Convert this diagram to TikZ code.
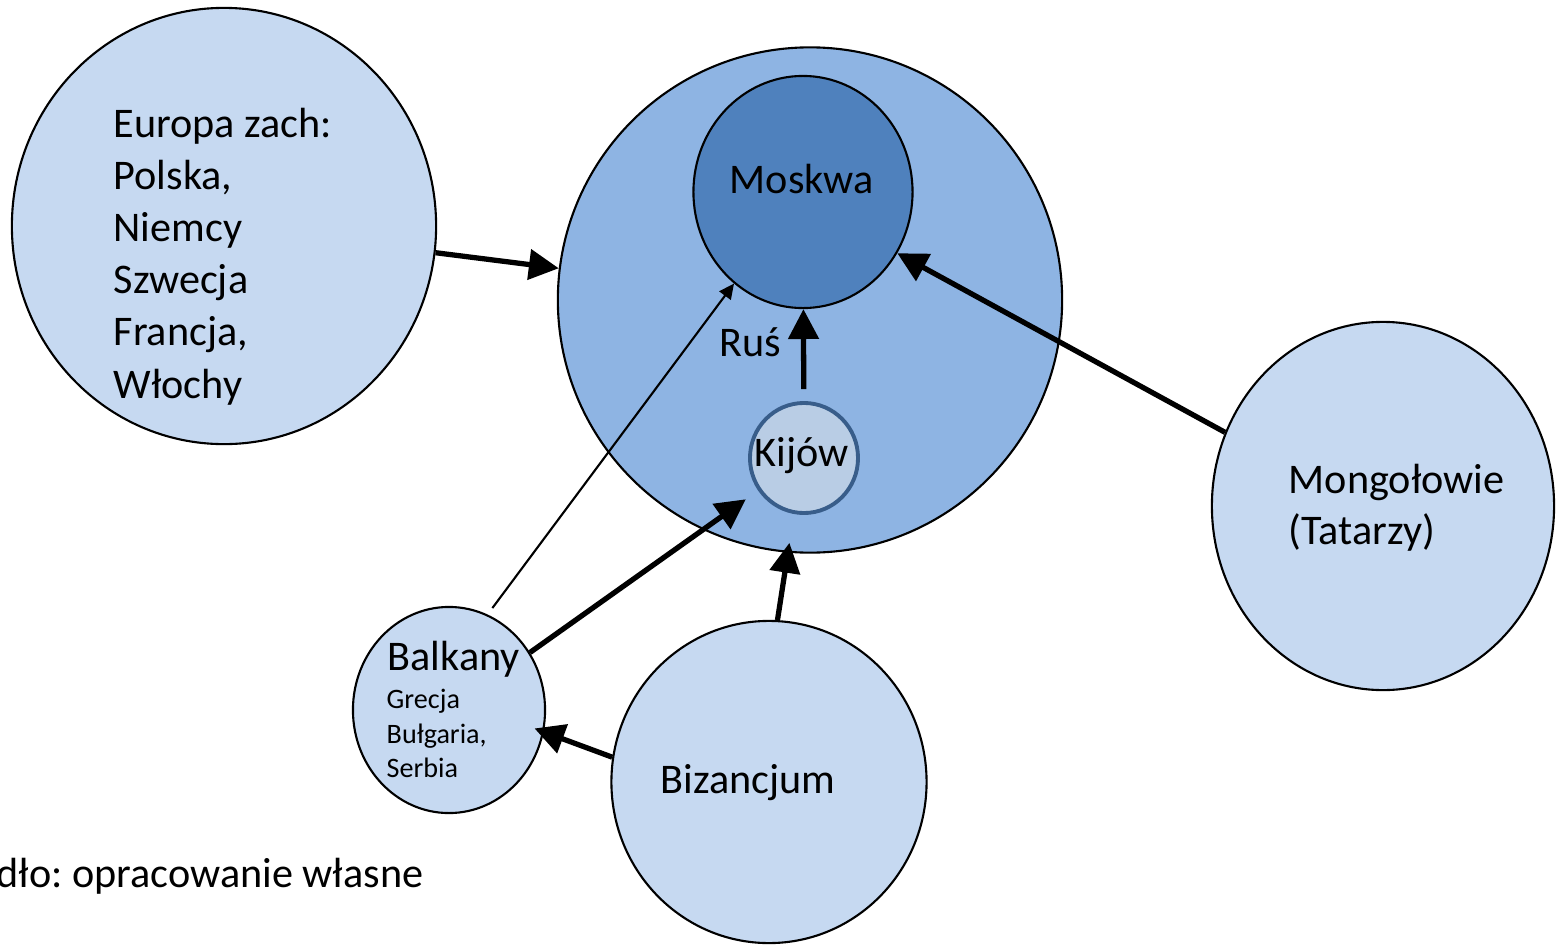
\documentclass[tikz,border=0pt]{standalone}
\usepackage{fontspec}
\setmainfont{Carlito}
\usetikzlibrary{arrows.meta,shapes.geometric,positioning}
\frenchspacing

\definecolor{lightblue}{HTML}{C6D9F1}
\definecolor{midblue}{HTML}{8EB4E3}
\definecolor{darkblue}{HTML}{4F81BD}
\definecolor{kijowfill}{HTML}{B9CDE5}
\definecolor{kijowline}{HTML}{385D8A}

\tikzset{
  region/.style={ellipse, draw=black, line width=0.6pt, fill=lightblue, inner sep=0pt},
  label/.style={anchor=base west, inner sep=0pt},
  smalllabel/.style={anchor=base west, inner sep=0pt, font=\fontsize{8}{10}\selectfont},
  arr/.style={-{Triangle[length=8.5pt,width=8.5pt]}, line width=1.5pt},
  thinarr/.style={-{Triangle[length=4.3pt,width=4pt]}, line width=0.6pt}
}

\begin{document}
\begin{tikzpicture}[x=0.01cm, y=-0.01cm, font=\fontsize{12}{14.8}\selectfont]

  \useasboundingbox (0,0) rectangle (1556,945);

  % Define nodes
  \node[region, minimum width=4.24cm, minimum height=4.36cm] (europa) at (224,226) {};
  \node[region, fill=midblue, minimum width=5.04cm, minimum height=5.05cm] (rus) at (810,300) {};
  \node[region, fill=darkblue, minimum width=2.19cm, minimum height=2.32cm] (moskwa) at (803,192) {};
  \node[region, draw=kijowline, line width=1.1pt, fill=kijowfill, minimum width=1.08cm, minimum height=1.10cm] (kijow) at (804,458) {};
  \node[region, minimum width=3.42cm, minimum height=3.68cm] (mong) at (1383,506) {};
  \node[region, minimum width=1.92cm, minimum height=2.06cm] (balkany) at (449,710) {};
  \node[region, minimum width=3.15cm, minimum height=3.22cm] (biz) at (769,782) {};

  % Texts
  \foreach \t [count=\i from 0] in {Europa zach:, {Polska,}, Niemcy, Szwecja, {Francja,}, Włochy}
    \node[label] (eu\i) at (113,137+52.2*\i) {\t};
  \node[label] (moskwa_t) at (729,193) {Moskwa};
  \node[label] (rus_t) at (719,356) {Ruś};
  \node[label] (kijow_t) at (754,466) {Kijów};
  \node[label] (mong_t1) at (1288,493) {Mongołowie};
  \node[label] (mong_t2) at (1288,544) {(Tatarzy)};
  \node[label] (balkany_t) at (387,670) {Balkany};
  \node[smalllabel] (bal1) at (386,708) {Grecja};
  \node[smalllabel] (bal2) at (386,743) {Bułgaria,};
  \node[smalllabel] (bal3) at (386,777) {Serbia};
  \node[label] (biz_t) at (660,793) {Bizancjum};
  \node[label] (source) at (-4,887) {dło: opracowanie własne};

  % Arrows
  \draw[arr] (europa) -- (rus);
  \draw[arr] (mong.155) -- (moskwa.-33);
  \draw[arr, shorten <=0.12cm] (kijow) -- (moskwa);
  \draw[arr, shorten >=0.15cm] (balkany) -- (kijow);
  \draw[thinarr, shorten <=0.08cm] (balkany.68) -- (moskwa.233);
  \draw[arr, shorten >=-0.1cm] (biz.87) -- (rus.265);
  \draw[arr, shorten >=-0.1cm] (biz.171) -- (balkany.-13);

\end{tikzpicture}
\end{document}
